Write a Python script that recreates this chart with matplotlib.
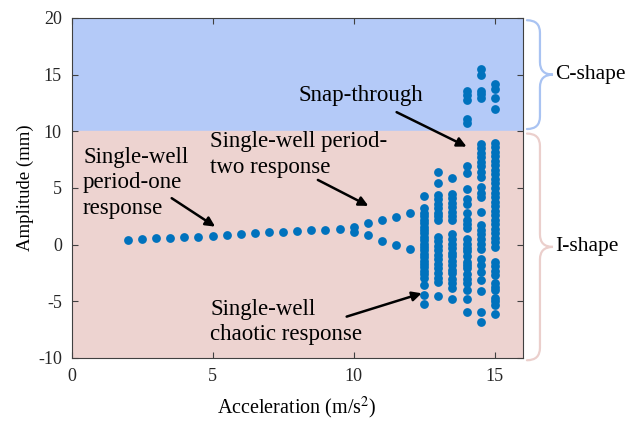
import matplotlib.pyplot as plt
from matplotlib.path import Path
from matplotlib.patches import PathPatch

plt.rcParams['font.family'] = ['Liberation Serif', 'DejaVu Serif']
plt.rcParams['mathtext.fontset'] = 'stix'
plt.rcParams['axes.unicode_minus'] = False

# single-well period-one branch
accel_p1 = [2.0, 2.5, 3.0, 3.5, 4.0, 4.5, 5.0, 5.5, 6.0, 6.5, 7.0, 7.5, 8.0, 8.5, 9.0, 9.5]
amp_p1 = [0.41, 0.50, 0.56, 0.62, 0.68, 0.71, 0.79, 0.85, 0.91, 1.03, 1.09, 1.15, 1.21, 1.26, 1.32, 1.35]

# period-two branch after bifurcation
accel_p2 = [10.0, 10.5, 11.0, 11.5, 12.0]
amp_p2_upper = [1.55, 1.95, 2.2, 2.45, 2.75]
amp_p2_lower = [1.15, 0.85, 0.35, 0.0, -0.4]

# chaotic / snap-through region, one list per acceleration level
chaos_accel = [12.5, 13.0, 13.5, 14.0, 14.5, 15.0]
amp_125 = [4.3, 3.2, 2.8, 2.5, 2.2, 1.9, 1.6, 1.3, 1.0, 0.7, 0.4, 0.1, -0.2, -0.5,
           -0.8, -1.1, -1.4, -1.7, -2.0, -2.3, -2.6, -2.9, -3.6, -4.4, -5.2]
amp_130 = [6.4, 5.4, 4.4, 4.0, 3.6, 3.2, 2.8, 2.5, 2.2, 0.7, 0.3, -0.1, -0.5, -0.9,
           -1.3, -1.7, -2.1, -2.5, -2.9, -3.3, -4.5]
amp_135 = [5.9, 4.5, 4.1, 3.7, 3.3, 2.9, 2.5, 2.2, 0.9, 0.5, 0.1, -0.3, -0.7, -1.0,
           -1.4, -1.8, -2.2, -2.5, -3.0, -3.4, -3.8, -4.8]
amp_140 = [13.6, 13.2, 12.8, 11.1, 10.7, 6.9, 6.3, 4.9, 4.0, 3.6, 2.8, 2.2, 1.8, 1.5,
           0.5, 0.1, -0.3, -0.6, -1.0, -1.5, -1.8, -2.1, -2.6, -3.0, -3.4, -4.0, -4.8, -5.9]
amp_145 = [15.5, 15.0, 13.6, 13.3, 12.9, 8.9, 8.5, 8.1, 7.7, 7.3, 6.9, 6.4, 6.0, 5.1,
           4.6, 4.2, 2.9, 1.7, 1.3, 0.9, 0.5, 0.1, -0.4, -1.3, -1.8, -2.4, -3.1, -4.1,
           -5.9, -6.8]
amp_150 = [14.2, 13.7, 12.9, 12.0, 9.0, 8.6, 8.2, 7.8, 7.4, 7.0, 6.6, 6.2, 5.8, 5.4,
           5.0, 4.6, 4.2, 3.8, 3.4, 3.0, 2.6, 2.2, 1.8, 1.4, 1.0, 0.6, 0.2, -0.2, -1.5,
           -1.9, -2.3, -2.7, -3.4, -3.7, -4.0, -4.7, -5.0, -5.3, -6.1]
chaos_amp = [amp_125, amp_130, amp_135, amp_140, amp_145, amp_150]

dot = '#0072BD'
blue_bg = '#B4CAF8'
pink_bg = '#EDD3D0'


def brace(ax, ytop, ybot, color):
    # curly brace to the right of the axes, in data units
    x0, xv, xt = 16.14, 16.6, 17.06
    r = 1.1
    ym = (ytop + ybot) / 2
    verts = [(x0, ytop), (xv, ytop), (xv, ytop - r),
             (xv, ym + r), (xv, ym), (xt, ym),
             (xv, ym), (xv, ym - r),
             (xv, ybot + r), (xv, ybot), (x0, ybot)]
    codes = [Path.MOVETO, Path.CURVE3, Path.CURVE3,
             Path.LINETO, Path.CURVE3, Path.CURVE3,
             Path.CURVE3, Path.CURVE3,
             Path.LINETO, Path.CURVE3, Path.CURVE3]
    ax.add_patch(PathPatch(Path(verts, codes), fill=False, edgecolor=color,
                           lw=1.6, clip_on=False, capstyle='round'))


fig = plt.figure(figsize=(6.3, 4.23), dpi=100)
ax = fig.add_axes([0.1135, 0.1537, 0.7167, 0.8038])

ax.axhspan(10, 20, color=blue_bg, zorder=0)
ax.axhspan(-10, 10, color=pink_bg, zorder=0)

ax.scatter(accel_p1, amp_p1, s=40, color=dot, zorder=3, linewidths=0)
ax.scatter(accel_p2, amp_p2_upper, s=40, color=dot, zorder=3, linewidths=0)
ax.scatter(accel_p2, amp_p2_lower, s=40, color=dot, zorder=3, linewidths=0)
for a, amps in zip(chaos_accel, chaos_amp):
    ax.scatter([a] * len(amps), amps, s=40, color=dot, zorder=3, linewidths=0)

ax.set_xlim(0, 16)
ax.set_ylim(-10, 20)
ax.set_xticks([0, 5, 10, 15])
ax.set_yticks([-10, -5, 0, 5, 10, 15, 20])
ax.tick_params(direction='in', length=4, width=0.8, colors='#404040',
               labelcolor='#262626', labelsize=13, top=True, right=True, pad=7)
for s in ax.spines.values():
    s.set_color('#404040')
    s.set_linewidth(0.8)

ax.set_xlabel(r'Acceleration (m/s$^2$)', fontsize=14.5, labelpad=7)
ax.set_ylabel('Amplitude (mm)', fontsize=13.5, labelpad=3)

arrow = dict(arrowstyle='-|>', lw=1.8, color='k', mutation_scale=14,
             shrinkA=0, shrinkB=0)
txt = dict(fontsize=16.5, ha='left', va='center', linespacing=1.3)

ax.annotate('', xy=(5.09, 1.59), xytext=(3.55, 4.1), arrowprops=arrow)
ax.text(0.41, 5.45, 'Single-well\nperiod-one\nresponse', **txt)
ax.annotate('', xy=(10.52, 3.42), xytext=(8.73, 5.71), arrowprops=arrow)
ax.text(4.91, 7.92, 'Single-well period-\ntwo response', **txt)
ax.annotate('', xy=(14.0, 8.65), xytext=(11.52, 11.69), arrowprops=arrow)
ax.text(8.03, 13.15, 'Snap-through', **txt)
ax.annotate('', xy=(12.41, -4.29), xytext=(9.75, -6.35), arrowprops=arrow)
ax.text(4.91, -6.82, 'Single-well\nchaotic response', **txt)

brace(ax, 19.8, 10.2, '#A9C3F2')
brace(ax, 9.8, -10.2, '#EBCFCC')
ax.text(17.13, 15.0, 'C-shape', fontsize=15.5, ha='left', va='center')
ax.text(17.13, -0.2, 'I-shape', fontsize=15.5, ha='left', va='center')

fig.savefig('out.png', dpi=100)
